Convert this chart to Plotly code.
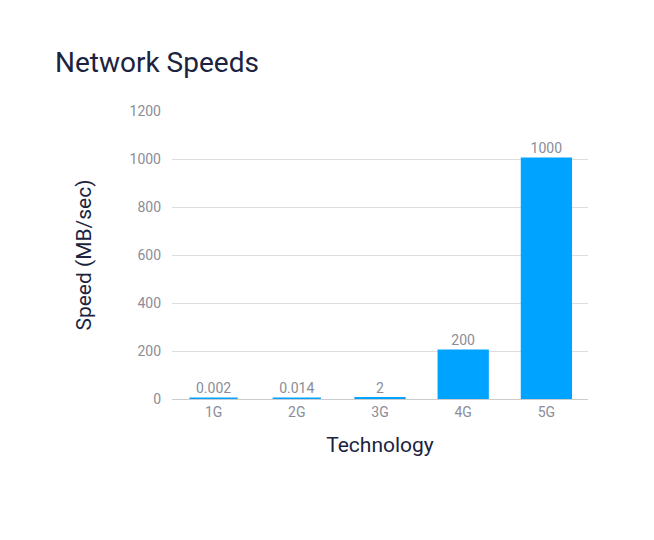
import plotly.graph_objects as go

technologies = ["1G", "2G", "3G", "4G", "5G"]
speeds = [0.002, 0.014, 2, 200, 1000]
speed_labels = ["0.002", "0.014", "2", "200", "1000"]

bar_color = "#00a3ff"
fig = go.Figure()
fig.add_trace(go.Bar(
    x=technologies,
    y=speeds,
    text=speed_labels,
    textposition="outside",
    textfont=dict(size=14, color="#8a8d99"),
    marker=dict(color=bar_color, line=dict(color=bar_color, width=3)),
    cliponaxis=False,
))

fig.update_layout(
    width=654, height=540,
    margin=dict(l=164, r=74, t=103, b=149),
    paper_bgcolor="white", plot_bgcolor="white",
    font=dict(family="Roboto, sans-serif", color="#1b2340"),
    title=dict(text="Network Speeds", x=47 / 654, xanchor="left", y=1 - 54 / 540, yanchor="middle",
               font=dict(size=28, color="#1b2340")),
    bargap=0.42,
    showlegend=False,
)
fig.update_xaxes(
    title=dict(text="Technology", font=dict(size=21, color="#1b2340"), standoff=18),
    tickfont=dict(size=14, color="#8a8d99"),
    showline=True, linecolor="#cccccc", ticks="",
)
fig.update_yaxes(
    title=dict(text="Speed (MB/sec)", font=dict(size=21, color="#1b2340"), standoff=32),
    range=[0, 1200], dtick=200,
    tickfont=dict(size=14, color="#8a8d99"),
    gridcolor="#dddddd", zeroline=False, ticks="", ticklabelstandoff=10,
)

fig.write_html("out.html")
